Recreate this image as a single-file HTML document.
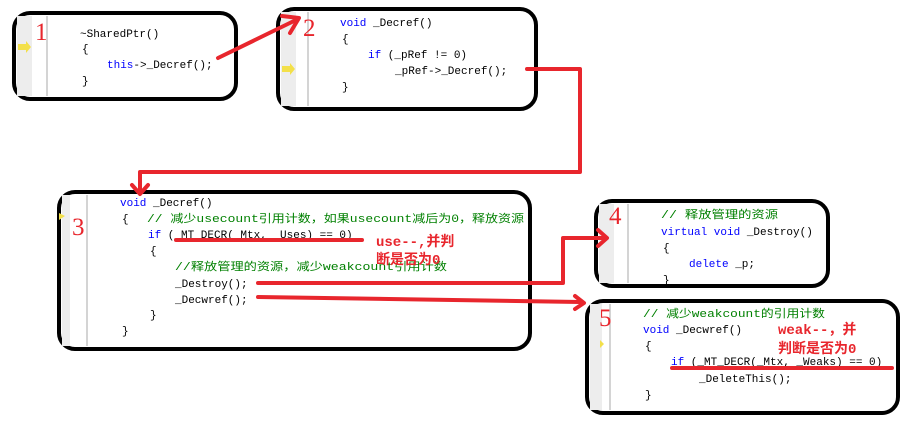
<!DOCTYPE html>
<html><head><meta charset="utf-8"><style>
body{margin:0;background:#fff;width:913px;height:436px;overflow:hidden}
svg text{font-family:"Liberation Mono","Noto Sans CJK SC",monospace;font-size:11px}
.k{fill:#0000ff}.c{fill:#008000}.n{fill:#e8262d;font-family:"Liberation Serif",serif;font-size:25px}
.a{fill:#e8262d;font-weight:bold;font-family:"Liberation Mono","Noto Sans CJK SC",monospace;font-size:14px}
</style></head><body>
<svg width="913" height="436" xmlns="http://www.w3.org/2000/svg">
<g fill="#fff" stroke="#000" stroke-width="4">
<rect x="14" y="13" width="222" height="86" rx="16"/>
<rect x="278" y="9" width="258" height="100" rx="16"/>
<rect x="59" y="192" width="471" height="157" rx="16"/>
<rect x="596" y="201" width="232" height="85" rx="16"/>
<rect x="587" y="301" width="311" height="112" rx="16"/>
</g>
<g fill="#ededed">
<rect x="17" y="16" width="15" height="80"/><rect x="281" y="12" width="15" height="94"/>
<rect x="62" y="195" width="8" height="151"/><rect x="599" y="204" width="15" height="79"/>
<rect x="590" y="304" width="12" height="106"/>
</g>
<g stroke="#aaa"><line x1="47" y1="16" x2="47" y2="96"/><line x1="308" y1="12" x2="308" y2="106"/>
<line x1="87" y1="195" x2="87" y2="346"/><line x1="628" y1="204" x2="628" y2="283"/><line x1="610" y1="304" x2="610" y2="410"/></g>
<g fill="#f3e04a"><polygon points="18,44 26,44 26,41 31,47 26,53 26,50 18,50"/><polygon points="282,66 290,66 290,63 295,69 290,75 290,72 282,72"/>
<polygon points="59,213 65,216 59,220"/><polygon points="600,340 604,344 600,348"/></g>
<text class="n" x="35" y="40">1</text><text class="n" x="303" y="36">2</text><text class="n" x="72" y="235">3</text>
<text class="n" x="609" y="224">4</text><text class="n" x="599" y="326">5</text>
<text x="80" y="37">~SharedPtr()</text><text x="82" y="52">{</text>
<text x="107" y="68"><tspan class="k">this</tspan>-&gt;_Decref();</text><text x="82" y="84">}</text>
<text x="340" y="26"><tspan class="k">void</tspan> _Decref()</text><text x="342" y="42">{</text>
<text x="368" y="58"><tspan class="k">if</tspan> (_pRef != 0)</text><text x="395" y="74">_pRef-&gt;_Decref();</text><text x="342" y="90">}</text>
<text x="120" y="206"><tspan class="k">void</tspan> _Decref()</text>
<text x="122" y="222">{</text>
<text class="c" x="147" y="222" textLength="377" lengthAdjust="spacingAndGlyphs">// 减少usecount引用计数，如果usecount减后为0，释放资源</text>
<text x="148" y="238"><tspan class="k">if</tspan> (_MT_DECR(_Mtx, _Uses) == 0)</text><text x="150" y="254">{</text>
<text class="c" x="175" y="270" textLength="272" lengthAdjust="spacingAndGlyphs">//释放管理的资源，减少weakcount引用计数</text>
<text x="175" y="287">_Destroy();</text><text x="175" y="303">_Decwref();</text>
<text x="150" y="318">}</text><text x="122" y="334">}</text>
<text class="c" x="661" y="218" textLength="117" lengthAdjust="spacingAndGlyphs">// 释放管理的资源</text>
<text x="661" y="235"><tspan class="k">virtual void</tspan> _Destroy()</text><text x="663" y="251">{</text>
<text x="689" y="267"><tspan class="k">delete</tspan> _p;</text><text x="663" y="283">}</text>
<text class="c" x="643" y="317" textLength="182" lengthAdjust="spacingAndGlyphs">// 减少weakcount的引用计数</text>
<text x="643" y="333"><tspan class="k">void</tspan> _Decwref()</text><text x="645" y="349">{</text>
<text x="671" y="365"><tspan class="k">if</tspan> (_MT_DECR(_Mtx, _Weaks) == 0)</text>
<text x="699" y="382">_DeleteThis();</text><text x="645" y="398">}</text>
<text class="a" x="376" y="246">use--,并判</text><text class="a" x="376" y="264">断是否为0</text>
<text class="a" x="778" y="334">weak--，并</text><text class="a" x="778" y="353">判断是否为0</text>
<g stroke="#e8262d" stroke-width="4" fill="none" stroke-linecap="round" stroke-linejoin="round">
<line x1="218" y1="58" x2="298" y2="19"/><polyline points="282,16 299,18 290,33"/>
<polyline points="527,69 580,69 580,172 140,172 140,193"/><polyline points="132,185 140,194 148,185"/>
<line x1="176" y1="240" x2="362" y2="240"/>
<polyline points="258,283 563,283 563,238 606,238"/><polyline points="598,230 607,238 598,246"/>
<polyline points="258,297 580,302"/><polyline points="575,296 584,303 575,309"/>
<line x1="672" y1="368" x2="892" y2="368"/>
</g>
</svg>
</body></html>
